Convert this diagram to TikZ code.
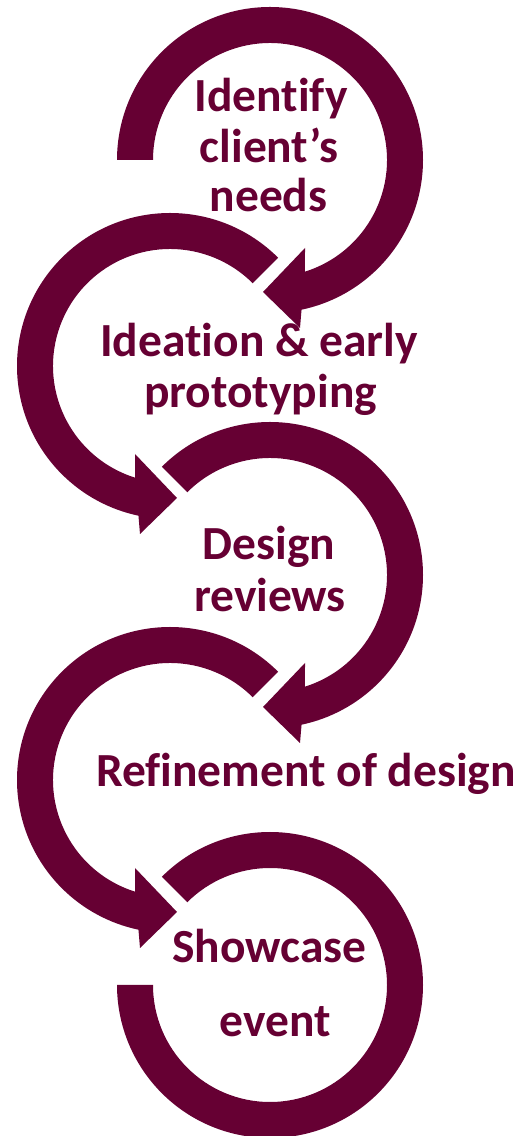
\documentclass[tikz,border=0pt]{standalone}
\usepackage{fontspec}
\setmainfont{Carlito}[Ligatures={NoCommon}]
\definecolor{wine}{RGB}{102,0,51}
\begin{document}
\begin{tikzpicture}[x=1pt,y=1pt,
  band/.style={fill=wine,draw=none},
  lbl/.style={anchor=base,text=wine,inner sep=0pt,font=\fontsize{47.5}{52}\selectfont\bfseries}]
\useasboundingbox (0,0) rectangle (522,1136);
% arrow 1
\begin{scope}[shift={(270,976)}]
\fill[band] (180:117) -- (180:153) arc[start angle=180, end angle=-78.1, radius=153]
  -- (30,-168) -- (-7,-132) -- (35,-88) -- (-72.6:117)
  arc[start angle=-72.6, end angle=180, radius=117] -- cycle;
\end{scope}
% arrow 2 (mirrored)
\begin{scope}[shift={(170,770)},xscale=-1]
\fill[band] (135:117) -- (135:153) arc[start angle=135, end angle=-78.1, radius=153]
  -- (30,-168) -- (-7,-132) -- (35,-88) -- (-72.6:117)
  arc[start angle=-72.6, end angle=135, radius=117] -- cycle;
\end{scope}
% arrow 3
\begin{scope}[shift={(270,561)}]
\fill[band] (135:117) -- (135:153) arc[start angle=135, end angle=-78.1, radius=153]
  -- (30,-168) -- (-7,-132) -- (35,-88) -- (-72.6:117)
  arc[start angle=-72.6, end angle=135, radius=117] -- cycle;
\end{scope}
% arrow 4 (mirrored)
\begin{scope}[shift={(170,356)},xscale=-1]
\fill[band] (135:117) -- (135:153) arc[start angle=135, end angle=-78.1, radius=153]
  -- (30,-168) -- (-7,-132) -- (35,-88) -- (-72.6:117)
  arc[start angle=-72.6, end angle=135, radius=117] -- cycle;
\end{scope}
% final arc
\begin{scope}[shift={(270,151)}]
\fill[band] (135:117) -- (135:153) arc[start angle=135, end angle=-180, radius=153]
  -- (-180:117) arc[start angle=-180, end angle=135, radius=117] -- cycle;
\end{scope}
% labels
\node[lbl] (t1a) at (271,1024) {Identify};
\node[lbl] (t1b) at (269,973) {client’s};
\node[lbl] (t1c) at (268.5,924) {needs};
\node[lbl] (t2a) at (259,779) {Ideation \& early};
\node[lbl] (t2b) at (260.5,728) {prototyping};
\node[lbl] (t3a) at (269,576) {Design};
\node[lbl] (t3b) at (270,524) {reviews};
\node[lbl] (t4a) at (306,349) {Refinement of design};
\node[lbl] (t5a) at (269.5,173) {Showcase};
\node[lbl] (t5b) at (275,99) {event};
\end{tikzpicture}
\end{document}
